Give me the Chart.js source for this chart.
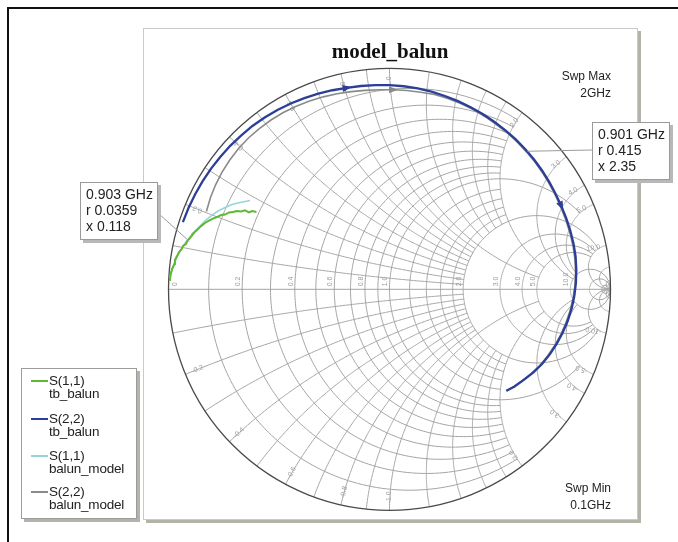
<!DOCTYPE html>
<html>
<head>
<meta charset="utf-8">
<script src="https://cdn.jsdelivr.net/npm/chart.js@4.4.0/dist/chart.umd.min.js"></script>
<style>
  html, body { margin: 0; padding: 0; background: #fff; }
  #wrap { position: relative; width: 678px; height: 542px; overflow: hidden; background: #fff;
          font-family: "Liberation Sans", Arial, sans-serif; color: #1a1a1a; }
  .frame-top { position: absolute; left: 7px; top: 7px; right: 0; height: 1.5px; background: #111; }
  .frame-left { position: absolute; left: 7px; top: 7px; width: 1.5px; bottom: 0; background: #111; }
  #panel { position: absolute; left: 143px; top: 28px; width: 493px; height: 490px;
           border: 1px solid #cacaca; box-shadow: 3px 3px 0 #b3b3a9; background: #fff; }
  #chart { position: absolute; left: 0; top: 0; }
  #title { position: absolute; left: 290px; width: 200px; top: 39px; text-align: center;
           font: bold 21px "Liberation Serif", "Times New Roman", serif; color: #111; }
  .sweep { position: absolute; right: 67px; text-align: right; font-size: 12px; line-height: 17px; color: #222; }
  .mbox { position: absolute; background: #fff; border: 1px solid #9a9a9a; box-shadow: 3px 3px 0 #b8b8b8;
          font-size: 14px; line-height: 16px; padding: 3px 5px; box-sizing: border-box; color: #222; white-space: nowrap; }
  #legend { position: absolute; left: 21px; top: 368px; width: 116px; height: 151px; background: #fff;
            border: 1px solid #9c9c9c; box-shadow: 3px 3px 0 #b3b3a9; box-sizing: border-box; }
  .lg { position: absolute; left: 0; font-size: 13.5px; line-height: 13px; color: #222; letter-spacing: -0.2px; }
  .lg i { position: absolute; left: 9px; top: 6px; width: 17px; height: 2px; }
  .lg span { position: absolute; left: 27px; top: 0; white-space: nowrap; }
</style>
</head>
<body>
<div id="wrap">
  <div class="frame-top"></div>
  <div class="frame-left"></div>
  <div id="panel"></div>
  <canvas id="chart" width="678" height="542"></canvas>
  <div id="title">model_balun</div>
  <div class="sweep" id="swpMax" style="top:68px"></div>
  <div class="sweep" id="swpMin" style="top:480px"></div>
  <div class="mbox" id="m1" style="left:80px; top:182px; width:78px; height:58px;"></div>
  <div class="mbox" id="m2" style="left:592px; top:122px; width:78px; height:58px;"></div>
  <div id="legend"></div>
</div>
<script>
// ---- sweep range ----
const sweepMin = '0.1GHz';
const sweepMax = '2GHz';

// ---- S(2,2) tb_balun : magnitude / angle (deg) ----
const s22TbAng = [162, 158, 154, 150, 146, 142, 138, 134, 130, 126, 122, 118, 114, 110, 106, 102, 98, 94, 90, 86,
                  82, 78, 74, 70, 66, 62, 58, 54, 50, 46, 42, 38, 34, 30, 26, 22, 18, 14, 10, 6,
                  2, -2, -6, -10, -14, -18, -22, -26, -30, -34, -38, -41];
const s22TbMag = [0.983, 0.981, 0.979, 0.977, 0.975, 0.972, 0.970, 0.967, 0.965, 0.961, 0.957, 0.952, 0.947, 0.942, 0.937, 0.932, 0.929, 0.926, 0.924, 0.921,
                  0.918, 0.914, 0.910, 0.906, 0.902, 0.898, 0.894, 0.890, 0.887, 0.883, 0.879, 0.875, 0.871, 0.867, 0.864, 0.862, 0.860, 0.858, 0.855, 0.850,
                  0.844, 0.837, 0.829, 0.819, 0.808, 0.796, 0.783, 0.769, 0.752, 0.733, 0.716, 0.700];

// ---- S(2,2) balun_model : magnitude / angle (deg) ----
const s22ModelAng = [157, 153, 149, 145, 141, 137, 133, 129, 125, 121, 117, 113, 109, 105, 101, 97, 93, 89, 85, 81,
                     77, 73, 69, 65, 61, 57, 53, 49, 45, 41, 37, 33, 29, 25, 21, 17, 13, 9, 5, 1,
                     -3, -7, -11, -15, -19, -23, -27, -31, -35, -39, -41];
const s22ModelMag = [0.900, 0.910, 0.918, 0.925, 0.930, 0.934, 0.936, 0.936, 0.935, 0.933, 0.930, 0.926, 0.921, 0.916, 0.911, 0.907, 0.904, 0.903, 0.903, 0.903,
                     0.905, 0.903, 0.900, 0.897, 0.893, 0.889, 0.886, 0.882, 0.878, 0.874, 0.870, 0.866, 0.862, 0.859, 0.857, 0.855, 0.853, 0.850, 0.845, 0.839,
                     0.831, 0.822, 0.812, 0.801, 0.789, 0.776, 0.762, 0.745, 0.727, 0.710, 0.702];

// ---- S(1,1) tb_balun : real / imaginary ----
const s11TbRe = [-0.994, -0.991, -0.984, -0.973, -0.971, -0.959, -0.952, -0.941, -0.934, -0.921, -0.914, -0.903, -0.885, -0.894,
                 -0.871, -0.853, -0.835, -0.817, -0.799, -0.781, -0.762, -0.744, -0.726, -0.708, -0.690, -0.672, -0.654, -0.636, -0.622, -0.602];
const s11TbIm = [0.038, 0.065, 0.092, 0.114, 0.133, 0.155, 0.169, 0.182, 0.196, 0.205, 0.219, 0.232, 0.255, 0.248,
                 0.268, 0.286, 0.300, 0.311, 0.320, 0.327, 0.336, 0.338, 0.348, 0.350, 0.354, 0.352, 0.357, 0.348, 0.354, 0.350];

// ---- S(1,1) balun_model : real / imaginary ----
const s11ModelRe = [-0.994, -0.984, -0.971, -0.957, -0.939, -0.921, -0.903, -0.880, -0.857, -0.830, -0.803, -0.776, -0.744, -0.713, -0.676, -0.631];
const s11ModelIm = [0.047, 0.087, 0.124, 0.155, 0.187, 0.214, 0.237, 0.264, 0.286, 0.314, 0.336, 0.354, 0.370, 0.384, 0.393, 0.402];

// ---- markers ----
const markerFreq = ['0.903 GHz', '0.901 GHz'];
const markerR = [0.0359, 0.415];
const markerX = [0.118, 2.35];

// ---- legend ----
const seriesNames = [['S(1,1)', 'tb_balun'], ['S(2,2)', 'tb_balun'], ['S(1,1)', 'balun_model'], ['S(2,2)', 'balun_model']];
const seriesColors = ['#5fb832', '#2b3f98', '#93d6dc', '#8a8a8a'];

// ---- Smith grid: [value, clip limit] ----
const resistanceCircles = [[0.1, 2], [0.2, 2], [0.3, 2], [0.4, 2], [0.5, 2], [0.6, 2], [0.7, 2], [0.8, 2], [0.9, 2],
                           [1.0, 5], [1.2, 2], [1.4, 2], [1.6, 2], [1.8, 2], [2, 10], [3, 10], [4, 10], [5, 10],
                           [10, Infinity], [20, Infinity], [50, Infinity]];
const reactanceArcs = [[0.1, 2], [0.2, 2], [0.3, 2], [0.4, 2], [0.5, 2], [0.6, 2], [0.7, 2], [0.8, 2], [0.9, 2],
                       [1.0, 5], [1.2, 2], [1.4, 2], [1.6, 2], [1.8, 2], [2, 5], [3, 10], [4, 10], [5, 10],
                       [10, Infinity], [20, Infinity], [50, Infinity]];
const resistanceLabels = [0, 0.2, 0.4, 0.6, 0.8, 1.0, 2.0, 3.0, 4.0, 5.0, 10.0];
const reactanceLabels = [0.2, 0.4, 0.6, 0.8, 1.0, 2.0, 3.0, 4.0, 5.0, 10.0];

// z = r + jx  ->  reflection coefficient
function toGamma(r, x) {
  const d = (r + 1) * (r + 1) + x * x;
  return [(r * r + x * x - 1) / d, 2 * x / d];
}
const polar = (mag, ang) => mag.map((m, i) => ({ x: m * Math.cos(ang[i] * Math.PI / 180), y: m * Math.sin(ang[i] * Math.PI / 180) }));
const cart = (re, im) => re.map((v, i) => ({ x: v, y: im[i] }));

const fmt = v => v.toFixed(1);

const smithGrid = {
  id: 'smithGrid',
  beforeDatasetsDraw(chart) {
    const { ctx, scales: { x: xs, y: ys } } = chart;
    const P = g => [xs.getPixelForValue(g[0]), ys.getPixelForValue(g[1])];
    ctx.save();
    ctx.lineWidth = 1;
    ctx.strokeStyle = '#a4a4a4';
    const N = 180;
    for (const [r, lim] of resistanceCircles) {
      const a = Math.atan(lim);
      ctx.beginPath();
      for (let i = 0; i <= N; i++) {
        const t = -a + 2 * a * i / N;
        const [px, py] = P(toGamma(r, Math.tan(t)));
        i ? ctx.lineTo(px, py) : ctx.moveTo(px, py);
      }
      ctx.stroke();
    }
    for (const [xv, lim] of reactanceArcs) {
      const b = Math.atan(lim);
      for (const s of [1, -1]) {
        ctx.beginPath();
        for (let i = 0; i <= N; i++) {
          const t = b * i / N;
          const [px, py] = P(toGamma(Math.tan(t), s * xv));
          i ? ctx.lineTo(px, py) : ctx.moveTo(px, py);
        }
        ctx.stroke();
      }
    }
    // real axis
    ctx.beginPath();
    ctx.moveTo(...P([-1, 0]));
    ctx.lineTo(...P([1, 0]));
    ctx.stroke();
    // unit circle
    const [cx, cy] = P([0, 0]);
    const R = xs.getPixelForValue(1) - cx;
    ctx.strokeStyle = '#4a4a4a';
    ctx.lineWidth = 1.3;
    ctx.beginPath();
    ctx.arc(cx, cy, R, 0, Math.PI * 2);
    ctx.stroke();

    // labels
    ctx.fillStyle = '#9c9c9c';
    ctx.font = '7px "Liberation Sans", Arial, sans-serif';
    ctx.textBaseline = 'middle';
    for (const r of resistanceLabels) {
      const [px, py] = P(toGamma(r, 0));
      ctx.save();
      ctx.translate(r === 0 ? px + 7 : px - 4, py - 3);
      ctx.rotate(-Math.PI / 2);
      ctx.textAlign = 'left';
      ctx.fillText(r === 0 ? '0' : fmt(r), 0, 0);
      ctx.restore();
    }
    for (const xv of reactanceLabels) {
      for (const s of [1, -1]) {
        const g = toGamma(0, s * xv);
        const [px, py] = P(g);
        const ang = Math.atan2(py - cy, px - cx);
        const inset = 13;
        const lx = px - inset * Math.cos(ang);
        const ly = py - inset * Math.sin(ang);
        ctx.save();
        ctx.translate(lx, ly);
        ctx.rotate(s > 0 ? ang : ang + Math.PI);
        ctx.textAlign = 'center';
        ctx.fillText((s < 0 ? '-' : '') + fmt(xv), 0, 0);
        ctx.restore();
      }
    }
    ctx.restore();
  },
  afterDatasetsDraw(chart) {
    const { ctx, scales: { x: xs, y: ys } } = chart;
    ctx.save();
    // direction arrows on the S(2,2) traces
    const arrows = [[1, 15], [1, 34], [3, 17]];
    for (const [ds, idx] of arrows) {
      const meta = chart.getDatasetMeta(ds);
      const p = meta.data[idx], q = meta.data[idx - 1];
      const a = Math.atan2(p.y - q.y, p.x - q.x);
      ctx.fillStyle = chart.data.datasets[ds].borderColor;
      ctx.beginPath();
      ctx.moveTo(p.x + 5 * Math.cos(a), p.y + 5 * Math.sin(a));
      ctx.lineTo(p.x - 4 * Math.cos(a) - 3.5 * Math.sin(a), p.y - 4 * Math.sin(a) + 3.5 * Math.cos(a));
      ctx.lineTo(p.x - 4 * Math.cos(a) + 3.5 * Math.sin(a), p.y - 4 * Math.sin(a) - 3.5 * Math.cos(a));
      ctx.closePath();
      ctx.fill();
    }
    // marker leader lines
    const anchors = [[158, 213], [592, 150]];
    ctx.strokeStyle = '#9a9a9a';
    ctx.lineWidth = 1;
    markerR.forEach((r, i) => {
      const g = toGamma(r, markerX[i]);
      ctx.beginPath();
      ctx.moveTo(anchors[i][0], anchors[i][1]);
      ctx.lineTo(xs.getPixelForValue(g[0]), ys.getPixelForValue(g[1]));
      ctx.stroke();
    });
    ctx.restore();
  }
};

const lineDs = (data, color, width) => ({
  data, borderColor: color, backgroundColor: color, borderWidth: width,
  showLine: true, pointRadius: 0, fill: false, tension: 0
});

new Chart(document.getElementById('chart'), {
  type: 'scatter',
  data: {
    datasets: [
      lineDs(cart(s11TbRe, s11TbIm), seriesColors[0], 2),
      lineDs(polar(s22TbMag, s22TbAng), seriesColors[1], 2.3),
      lineDs(cart(s11ModelRe, s11ModelIm), seriesColors[2], 1.6),
      lineDs(polar(s22ModelMag, s22ModelAng), seriesColors[3], 1.6)
    ]
  },
  options: {
    responsive: false,
    devicePixelRatio: 1,
    animation: false,
    layout: { padding: { left: 168.5, right: 67.5, top: 68.3, bottom: 31.7 } },
    scales: {
      x: { type: 'linear', min: -1, max: 1, display: false },
      y: { type: 'linear', min: -1, max: 1, display: false }
    },
    plugins: { legend: { display: false }, tooltip: { enabled: false } }
  },
  plugins: [smithGrid]
});

// texts
document.getElementById('swpMax').innerHTML = 'Swp Max<br>' + sweepMax;
document.getElementById('swpMin').innerHTML = 'Swp Min<br>' + sweepMin;
['m1', 'm2'].forEach((id, i) => {
  document.getElementById(id).innerHTML =
    markerFreq[i] + '<br>r ' + markerR[i] + '<br>x ' + markerX[i];
});
const lg = document.getElementById('legend');
const rows = [5, 43, 80, 116];
seriesNames.forEach((n, i) => {
  const d = document.createElement('div');
  d.className = 'lg';
  d.style.top = rows[i] + 'px';
  d.innerHTML = '<i style="background:' + seriesColors[i] + '"></i><span>' + n[0] + '<br>' + n[1] + '</span>';
  lg.appendChild(d);
});
</script>
</body>
</html>
